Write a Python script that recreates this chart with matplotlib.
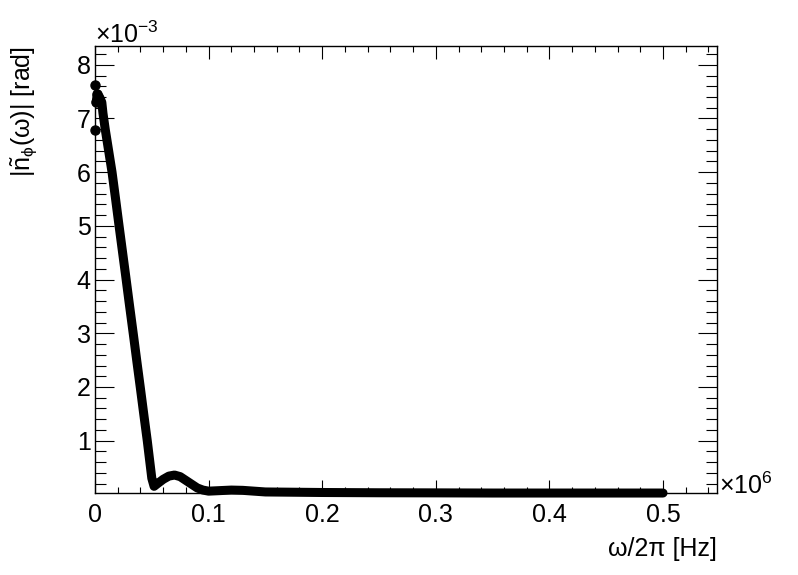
import numpy as np
import matplotlib
matplotlib.use("Agg")
import matplotlib.pyplot as plt
from matplotlib.ticker import MultipleLocator

plt.rcParams['font.family'] = ['Liberation Sans', 'DejaVu Sans']
plt.rcParams['mathtext.fontset'] = 'custom'
plt.rcParams['mathtext.rm'] = 'Liberation Sans'
plt.rcParams['mathtext.it'] = 'Liberation Sans'
plt.rcParams['mathtext.sf'] = 'Liberation Sans'

# frequency in units of 1e6 Hz, amplitude in units of 1e-3 rad
freq = [0.0, 0.0004, 0.001, 0.002, 0.004, 0.006, 0.007, 0.009, 0.012, 0.015,
        0.018, 0.021, 0.024, 0.027, 0.030, 0.034, 0.037, 0.040, 0.043, 0.046,
        0.048, 0.050, 0.052, 0.055, 0.060, 0.065, 0.070, 0.075, 0.080, 0.085,
        0.090, 0.095, 0.100, 0.110, 0.120, 0.130, 0.140, 0.150, 0.175, 0.200,
        0.250, 0.300, 0.350, 0.400, 0.450, 0.500]
ampl = [7.62, 6.79, 7.30, 7.45, 7.40, 7.30, 7.10, 6.80, 6.40, 6.00,
        5.52, 5.03, 4.55, 4.07, 3.58, 2.94, 2.45, 1.97, 1.48, 1.00,
        0.65, 0.30, 0.15, 0.20, 0.28, 0.34, 0.36, 0.33, 0.26, 0.19,
        0.12, 0.08, 0.06, 0.07, 0.08, 0.075, 0.06, 0.045, 0.04, 0.035,
        0.03, 0.028, 0.025, 0.025, 0.025, 0.025]
xticks = [0, 0.1, 0.2, 0.3, 0.4, 0.5]
xticklabels = ['0', '0.1', '0.2', '0.3', '0.4', '0.5']
yticks = [1, 2, 3, 4, 5, 6, 7, 8]

W, H = 798, 575
fig = plt.figure(figsize=(W / 100, H / 100), dpi=100)
ax = fig.add_axes([95 / W, 1 - 493.3 / H, (717 - 95) / W, (493.3 - 46) / H])

# main band (dense markers in the original)
ax.plot(freq[2:], ampl[2:], color='black', lw=6.5, solid_capstyle='round',
        solid_joinstyle='round', clip_on=False, zorder=3)
ax.plot(freq[:4], ampl[:4], 'o', color='black', ms=6.5, clip_on=False, zorder=4)

ax.set_xlim(0, 0.5475)
ax.set_ylim(0.02, 8.35)
ax.set_xticks(xticks)
ax.set_xticklabels(xticklabels)
ax.set_yticks(yticks)
ax.set_yticklabels([str(v) for v in yticks])
ax.xaxis.set_minor_locator(MultipleLocator(0.02))
ax.yaxis.set_minor_locator(MultipleLocator(0.2))

ax.tick_params(which='both', direction='in', top=True, right=True, width=0.8, labelsize=18)
ax.tick_params(axis='x', which='major', length=9.5, pad=7)
ax.tick_params(axis='x', which='minor', length=4.6)
ax.tick_params(axis='y', which='major', length=13.7, pad=3)
ax.tick_params(axis='y', which='minor', length=7.7)
for s in ax.spines.values():
    s.set_linewidth(1.0)

# exponent labels
fig.text(95 / W, 1 - 43 / H, r'$\times10^{-3}$', fontsize=18, ha='left', va='baseline')
fig.text(719 / W, 1 - 494 / H, r'$\times10^{6}$', fontsize=18, ha='left', va='baseline')

# axis titles
fig.text(717 / W, 1 - 537 / H, 'ω/2π [Hz]', fontsize=18, ha='right', va='top')
fig.text(24 / W, 1 - 46 / H, r'$|\tilde{n}_{\phi}(\omega)|$ [rad]', fontsize=18,
         rotation=90, ha='center', va='top')

fig.savefig('out.png', dpi=100)
